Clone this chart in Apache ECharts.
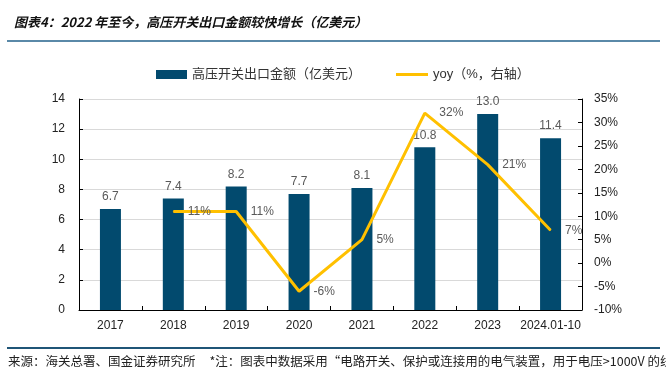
<!DOCTYPE html>
<html><head><meta charset="utf-8">
<script src="https://cdn.jsdelivr.net/npm/echarts@6/dist/echarts.min.js"></script>
<style>html,body{margin:0;padding:0;background:#fff}#c{width:666px;height:379px}</style>
</head><body><div id="c"></div>
<script>
const categories = ['2017','2018','2019','2020','2021','2022','2023','2024.01-10'];
const exportValues = [6.7, 7.4, 8.2, 7.7, 8.1, 10.8, 13.0, 11.4];
const yoyValues = [null, 11, 11, -6, 5, 32, 21, 7];
const leftTicks = {min:0, max:14, interval:2};
const rightTicks = {min:-10, max:35, interval:5};
const barName = '高压开关出口金额（亿美元）';
const lineName = 'yoy（%，右轴）';
const titleText = '图表4：2022 年至今，高压开关出口金额较快增长（亿美元）';
const footText = '来源：海关总署、国金证券研究所     *注：图表中数据采用“电路开关、保护或连接用的电气装置，用于电压>1000V 的线路';

const chart = echarts.init(document.getElementById('c'));
const font = '"Liberation Sans", Arial, "Noto Sans CJK SC", sans-serif';
chart.setOption({
  animation:false,
  textStyle:{fontFamily:font},
  title:{text:titleText,left:9,top:11,textStyle:{fontSize:13,fontWeight:'bold',fontStyle:'italic',color:'#111',fontFamily:'"Noto Sans CJK SC", sans-serif'}},
  graphic:[
    {type:'rect',shape:{x:7,y:40,width:653,height:2},style:{fill:'#5A89A8'}},
    {type:'rect',shape:{x:7,y:347,width:653,height:2},style:{fill:'#1F5577'}},
    {type:'text',left:8,top:355,style:{text:footText,fontSize:12.5,fill:'#222',fontFamily:'"Noto Sans CJK SC", sans-serif'}}
  ],
  legend:[
    {top:63,left:151,itemWidth:31,itemHeight:9,
     textStyle:{fontSize:13,color:'#333',fontFamily:font},
     data:[{name:barName,icon:'rect'}]},
    {top:63,left:391,itemWidth:32,itemHeight:9,
     textStyle:{fontSize:13,color:'#333',fontFamily:font},
     data:[{name:lineName,icon:'path://M0,4 L32,4 L32,7 L0,7 Z'}]}
  ],
  grid:{left:79,right:84,top:99,bottom:69,containLabel:false},
  xAxis:{type:'category',data:categories,
    axisLine:{lineStyle:{color:'#000',width:1}},
    axisTick:{show:true,inside:true,alignWithLabel:false,length:4,lineStyle:{color:'#000'}},
    axisLabel:{color:'#222',fontSize:12,margin:10,interval:0}},
  yAxis:[
    {type:'value',min:leftTicks.min,max:leftTicks.max,interval:leftTicks.interval,
     axisLine:{show:true,lineStyle:{color:'#000'}},
     axisTick:{show:true,inside:true,length:4,lineStyle:{color:'#000'}},
     axisLabel:{color:'#222',fontSize:12,margin:14},
     splitLine:{show:true,lineStyle:{color:'#D9D9D9'}}},
    {type:'value',min:rightTicks.min,max:rightTicks.max,interval:rightTicks.interval,
     axisLine:{show:true,lineStyle:{color:'#000'}},
     axisTick:{show:true,inside:true,length:4,lineStyle:{color:'#000'}},
     axisLabel:{color:'#222',fontSize:12,margin:12,formatter:'{value}%'},
     splitLine:{show:false}}
  ],
  series:[
    {name:barName,type:'bar',data:exportValues,barWidth:21,yAxisIndex:0,
     itemStyle:{color:'#024A6E'},
     label:{show:true,position:'top',color:'#595959',fontSize:12,formatter:p=>p.value.toFixed(1),distance:6}},
    {name:lineName,type:'line',data:yoyValues,yAxisIndex:1,symbol:'circle',symbolSize:1,showSymbol:true,
     lineStyle:{color:'#FFC000',width:3},itemStyle:{color:'#FFC000'},
     labelLayout:{hideOverlap:false},
     label:{show:true,position:'right',color:'#595959',fontSize:12,formatter:p=>p.value==null?'':p.value+'%',distance:14}}
  ]
});
</script></body></html>
